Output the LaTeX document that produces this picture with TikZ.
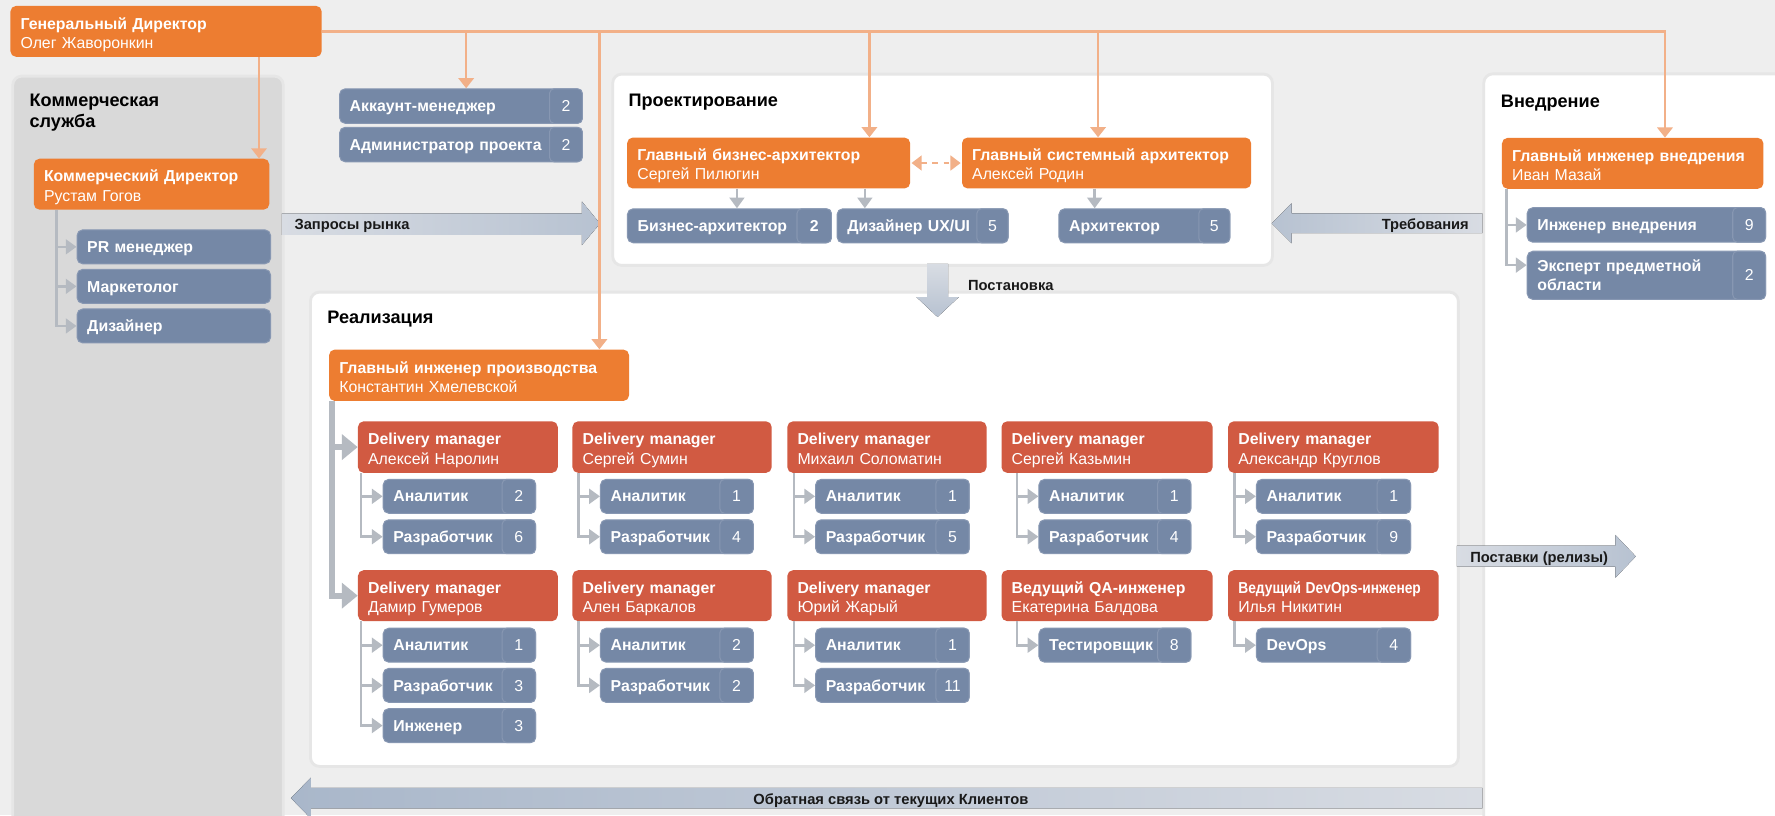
\documentclass[tikz,border=0pt]{standalone}
\usepackage{fontspec}
\setmainfont{Liberation Sans}
\usetikzlibrary{arrows.meta}
\definecolor{bgc}{HTML}{EEEEEE}
\definecolor{halo}{HTML}{E6E6E6}
\definecolor{corange}{HTML}{ED7D31}
\definecolor{cred}{HTML}{D15A42}
\definecolor{cblue}{HTML}{7588A6}
\definecolor{cblueln}{HTML}{8797B2}
\definecolor{olinec}{HTML}{F2B088}
\definecolor{glinec}{HTML}{B5BAC1}
\definecolor{cpanel}{HTML}{D9D9D9}
\definecolor{arrL}{HTML}{D8DCE3}
\definecolor{arrD}{HTML}{B7C2D1}
\definecolor{arrB}{HTML}{A9B7CA}
\newcommand\myfs{\fontsize{14}{17}\selectfont}
\newcommand\sbx[7]{%
  \node[bbox, sz={#4}{30}] (#1) at (#2,#3) {#5};
  \node[ncell={#7}{30}] (#1n) at (#1.north east) {#6};}
\tikzset{
  sz/.code 2 args={\pgfmathsetmacro\twd{#1-18}\edef\tmpa{\noexpand\tikzset{minimum width=#1pt,minimum height=#2pt,text width=\twd pt}}\tmpa},
  panel/.style={rectangle, rounded corners=8pt, anchor=north west, inner sep=0pt, draw=halo, line width=2.5pt},
  box/.style={rectangle, rounded corners=5pt, inner xsep=9pt, inner ysep=0pt, anchor=north west, align=left, text=white, font=\myfs},
  obox/.style={box, fill=corange, text height=10pt, text depth=14pt},
  rbox/.style={obox, fill=cred},
  bbox/.style={box, fill=cblue, draw=cblueln, line width=0.9pt, font=\myfs\bfseries, text height=10pt, text depth=0pt},
  ncell/.style 2 args={rectangle, rounded corners=4pt, inner sep=0pt, anchor=north east, fill=cblue, draw=cblueln, line width=0.9pt, text=white, font=\myfs, minimum width=#1pt, minimum height=#2pt, text height=10pt, text depth=0pt},
  ptitle/.style={inner sep=0pt, font=\fontsize{16}{19.2}\selectfont\bfseries, text=black, align=left},
  alabel/.style={inner sep=0pt, font=\fontsize{13}{15}\selectfont\bfseries, text=black!90},
  oarr/.style={draw=olinec, line width=2.2pt, -{Triangle[width=13.5pt,length=9pt]}},
  odash/.style={draw=olinec, line width=2.2pt, dash pattern=on 5pt off 5pt, {Triangle[width=13pt,length=9pt]}-{Triangle[width=13pt,length=9pt]}},
  garr/.style={draw=glinec, line width=2.3pt, -{Triangle[width=13pt,length=9.5pt]}},
  tarr/.style={draw=glinec, line width=5pt, -{Triangle[width=22pt,length=14pt]}},
}
\newcommand\ttl[2]{\mbox{\bfseries #1}\\\mbox{#2}}
\begin{document}
\begin{tikzpicture}[x=1pt,y=-1pt]
\useasboundingbox (0,0) rectangle (1568,720);
\fill[bgc] (0,0) rectangle (1568,720);

% ---------- panels
\node[panel, fill=cpanel, minimum width=239pt, minimum height=665pt] (pcom) at (10,66) {};
\node[panel, fill=white, minimum width=582.8pt, minimum height=169pt] (pproj) at (540,64.2) {};
\node[panel, fill=white, minimum width=300pt, minimum height=680pt] (pvn) at (1309.5,64) {};
\node[panel, fill=white, minimum width=1014pt, minimum height=419pt] (preal) at (273,256.8) {};

\node[ptitle, anchor=west] (tcom) at (26,99.6) {Коммерческая\\служба};
\node[ptitle, anchor=base west] (tproj) at (555,94) {Проектирование};
\node[ptitle, anchor=base west] (tvn) at (1325.7,94.8) {Внедрение};
\node[ptitle, anchor=base west] (treal) at (289,285.5) {Реализация};

% ---------- big flow arrows
\fill[left color=arrL, right color=arrD] (249,188.5) -- (514,188.5) -- (514,178) -- (530,197.5) -- (514,216.5) -- (514,207.5) -- (249,207.5) -- cycle;
\fill[left color=arrD, right color=arrL] (1309.5,188.5) -- (1141,188.5) -- (1141,179.6) -- (1123.4,197.3) -- (1141,215) -- (1141,206) -- (1309.5,206) -- cycle;
\fill[top color=arrL, bottom color=arrD] (819,233.2) -- (837.5,233.2) -- (837.5,262.4) -- (847,262.4) -- (828.2,280) -- (809.5,262.4) -- (819,262.4) -- cycle;
\fill[left color=arrL, right color=arrD] (1287,482) -- (1427,482) -- (1427,472.6) -- (1445,491.5) -- (1427,510.3) -- (1427,500.6) -- (1287,500.6) -- cycle;
\fill[left color=arrB, right color=arrL] (1309.5,696) -- (274.6,696) -- (274.6,687) -- (257,705) -- (274.6,723) -- (274.6,714) -- (1309.5,714) -- cycle;

\node[alabel, anchor=base west] (lzap) at (260,202.7) {Запросы рынка};
\node[alabel, anchor=base east] (ltreb) at (1297.7,202.7) {Требования};
\node[alabel, anchor=base west] (lpost) at (855,256.5) {Постановка};
\node[alabel, anchor=base west] (lpostav) at (1298.6,496.5) {Поставки (релизы)};
\node[alabel, anchor=base] (lobr) at (787,710.5) {Обратная связь от текущих Клиентов};

% ---------- top level
\node[obox, sz={275}{45}] (gd) at (9,5) {\ttl{Генеральный Директор}{Олег Жаворонкин}};

% commercial
\node[obox, sz={208}{45}] (cd) at (29.7,140) {\ttl{Коммерческий Директор}{Рустам Гогов}};
\node[bbox, sz={171}{30}] (pr) at (67.6,202.6) {PR менеджер};
\node[bbox, sz={171}{30}] (mk) at (67.6,237.5) {Маркетолог};
\node[bbox, sz={171}{30}] (dz) at (67.6,272.5) {Дизайнер};

% project staff
\node[bbox, sz={214.5}{30.5}] (acc) at (299.5,78) {Аккаунт-менеджер};
\node[ncell={29}{30.5}] (accn) at (acc.north east) {2};
\node[bbox, sz={214.5}{30.5}] (adm) at (299.5,112) {Администратор проекта};
\node[ncell={29}{30.5}] (admn) at (adm.north east) {2};

% design
\node[obox, sz={250}{45}] (gba) at (553.8,121.3) {\ttl{Главный бизнес-архитектор}{Сергей Пилюгин}};
\node[obox, sz={255.4}{45}] (gsa) at (849.6,121.3) {\ttl{Главный системный архитектор}{Алексей Родин}};
\sbx{ba}{553.8}{184}{180.2}{Бизнес-архитектор}{\bfseries 2}{30.4}
\sbx{ux}{739}{184}{151}{Дизайнер UX/UI}{5}{27.5}
\sbx{ar}{935}{184}{151}{Архитектор}{5}{27.4}

% implementation
\node[obox, sz={231}{45}] (giv) at (1326.6,121.6) {\ttl{Главный инженер внедрения}{Иван Мазай}};
\node[bbox, sz={210.6}{30.5}] (iv) at (1348.6,183) {Инженер внедрения};
\node[ncell={29}{30.5}] (ivn) at (iv.north east) {9};
\node[bbox, sz={210.6}{42.5}, text depth=16.5pt, font=\fontsize{14}{16.5}\selectfont\bfseries] (ex) at (1348.6,221.5) {Эксперт предметной\\области};
\node[ncell={29}{42.5}] (exn) at (ex.north east) {2};

% realisation
\node[obox, sz={265}{45.4}] (gip) at (290.5,308.6) {\ttl{Главный инженер производства}{Константин Хмелевской}};

\node[rbox, sz={176.5}{45.5}] (dm1) at (316,372) {\ttl{Delivery manager}{Алексей Наролин}};
\node[rbox, sz={176}{45.5}] (dm2) at (505.5,372) {\ttl{Delivery manager}{Сергей Сумин}};
\node[rbox, sz={176}{45.5}] (dm3) at (695.3,372) {\ttl{Delivery manager}{Михаил Соломатин}};
\node[rbox, sz={186.5}{45.5}] (dm4) at (884.5,372) {\ttl{Delivery manager}{Сергей Казьмин}};
\node[rbox, sz={186}{45.5}] (dm5) at (1084.7,372) {\ttl{Delivery manager}{Александр Круглов}};
\node[rbox, sz={176.5}{45}] (dm6) at (316,503.5) {\ttl{Delivery manager}{Дамир Гумеров}};
\node[rbox, sz={176}{45}] (dm7) at (505.5,503.5) {\ttl{Delivery manager}{Ален Баркалов}};
\node[rbox, sz={176}{45}] (dm8) at (695.3,503.5) {\ttl{Delivery manager}{Юрий Жарый}};
\node[rbox, sz={186.5}{45}] (dm9) at (884.5,503.5) {\ttl{Ведущий QA-инженер}{Екатерина Балдова}};
\node[rbox, sz={186}{45}] (dm10) at (1084.7,503.5) {\mbox{\bfseries\scalebox{0.87}[1]{Ведущий DevOps-инженер}}\\\mbox{Илья Никитин}};

\sbx{s1a}{338}{423}{134.6}{Аналитик}{2}{29.5}
\sbx{s1b}{338}{458.7}{134.6}{Разработчик}{6}{29.5}
\sbx{s2a}{530}{423}{135}{Аналитик}{1}{29.5}
\sbx{s2b}{530}{458.7}{135}{Разработчик}{4}{29.5}
\sbx{s3a}{720}{423}{135.7}{Аналитик}{1}{29.5}
\sbx{s3b}{720}{458.7}{135.7}{Разработчик}{5}{29.5}
\sbx{s4a}{917.3}{423}{134.3}{Аналитик}{1}{29.5}
\sbx{s4b}{917.3}{458.7}{134.3}{Разработчик}{4}{29.5}
\sbx{s5a}{1109.4}{423}{136.2}{Аналитик}{1}{29.5}
\sbx{s5b}{1109.4}{458.7}{136.2}{Разработчик}{9}{29.5}
\sbx{s6a}{338}{554.5}{134.6}{Аналитик}{1}{29.5}
\sbx{s6b}{338}{590}{134.6}{Разработчик}{3}{29.5}
\sbx{s6c}{338}{625.5}{134.6}{Инженер}{3}{29.5}
\sbx{s7a}{530}{554.5}{135}{Аналитик}{2}{29.5}
\sbx{s7b}{530}{590}{135}{Разработчик}{2}{29.5}
\sbx{s8a}{720}{554.5}{135.7}{Аналитик}{1}{29.5}
\sbx{s8b}{720}{590}{135.7}{Разработчик}{11}{29.5}
\sbx{s9a}{917.3}{554.5}{134.3}{Тестировщик}{8}{29.5}
\sbx{s10a}{1109.4}{554.5}{136.2}{DevOps}{4}{29.5}

% ---------- coordinates for connector columns
\coordinate (xcd) at (228.8,0);
\coordinate (xacc) at (411.8,0);
\coordinate (xgip) at (529.5,0);
\coordinate (xgba) at (768,0);
\coordinate (xgsa) at (970,0);
\coordinate (xgiv) at (1470.8,0);
\coordinate (xc) at (49.7,0);
\coordinate (xba) at (651,0);
\coordinate (xux) at (764,0);
\coordinate (xar) at (967,0);
\coordinate (xv) at (1331,0);
\coordinate (xg) at (293,0);
\coordinate (l1) at (319,0);
\coordinate (l2) at (511,0);
\coordinate (l3) at (701.5,0);
\coordinate (l4) at (898.3,0);
\coordinate (l5) at (1090.4,0);

% ---------- orange connectors
\draw[oarr] (gd.south -| xcd) -- (cd.north -| xcd);
\draw[oarr] (gd.east) -| (giv.north -| xgiv);
\draw[oarr] (gd.east -| xacc) -- (acc.north -| xacc);
\draw[oarr] (gd.east -| xgip) -- (gip.north -| xgip);
\draw[oarr] (gd.east -| xgba) -- (gba.north -| xgba);
\draw[oarr] (gd.east -| xgsa) -- (gsa.north -| xgsa);
\draw[odash] ([xshift=1pt]gba.east) -- ([xshift=-1pt]gsa.west);

% ---------- grey connectors
\draw[garr] (cd.south -| xc) |- (pr.west);
\draw[garr] (cd.south -| xc) |- (mk.west);
\draw[garr] (cd.south -| xc) |- (dz.west);
\draw[garr] (gba.south -| xba) -- (ba.north -| xba);
\draw[garr] (gba.south -| xux) -- (ux.north -| xux);
\draw[garr] (gsa.south -| xar) -- (ar.north -| xar);
\draw[garr] (giv.south -| xv) |- (iv.west);
\draw[garr] (giv.south -| xv) |- ([yshift=9pt]ex.west);
\draw[tarr] (gip.south -| xg) |- (dm1.west);
\draw[tarr] (gip.south -| xg) |- (dm6.west);
\draw[garr] (dm1.south -| l1) |- (s1a.west);
\draw[garr] (dm1.south -| l1) |- (s1b.west);
\draw[garr] (dm2.south -| l2) |- (s2a.west);
\draw[garr] (dm2.south -| l2) |- (s2b.west);
\draw[garr] (dm3.south -| l3) |- (s3a.west);
\draw[garr] (dm3.south -| l3) |- (s3b.west);
\draw[garr] (dm4.south -| l4) |- (s4a.west);
\draw[garr] (dm4.south -| l4) |- (s4b.west);
\draw[garr] (dm5.south -| l5) |- (s5a.west);
\draw[garr] (dm5.south -| l5) |- (s5b.west);
\draw[garr] (dm6.south -| l1) |- (s6a.west);
\draw[garr] (dm6.south -| l1) |- (s6b.west);
\draw[garr] (dm6.south -| l1) |- (s6c.west);
\draw[garr] (dm7.south -| l2) |- (s7a.west);
\draw[garr] (dm7.south -| l2) |- (s7b.west);
\draw[garr] (dm8.south -| l3) |- (s8a.west);
\draw[garr] (dm8.south -| l3) |- (s8b.west);
\draw[garr] (dm9.south -| l4) |- (s9a.west);
\draw[garr] (dm10.south -| l5) |- (s10a.west);
\end{tikzpicture}
\end{document}
